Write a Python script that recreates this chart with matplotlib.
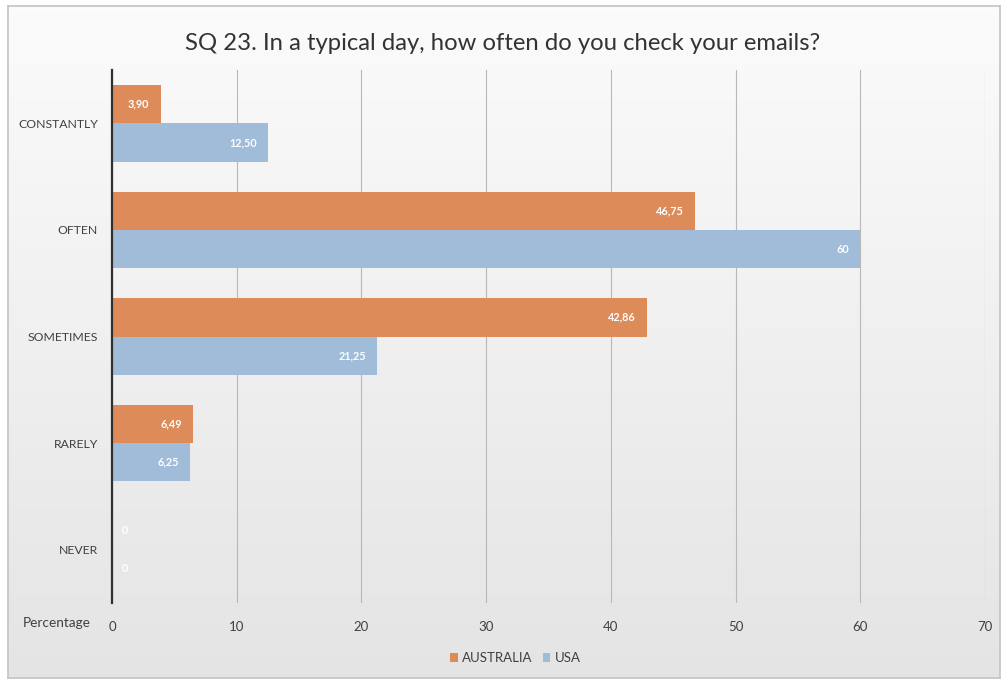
import numpy as np
import matplotlib.pyplot as plt

categories = ["CONSTANTLY", "OFTEN", "SOMETIMES", "RARELY", "NEVER"]
australia = [3.90, 46.75, 42.86, 6.49, 0]
usa = [12.50, 60, 21.25, 6.25, 0]
series_names = ["AUSTRALIA", "USA"]
xticks = [0, 10, 20, 30, 40, 50, 60, 70]

FONT = ["Lato", "DejaVu Sans"]
plt.rcParams["font.family"] = FONT

ORANGE = "#DE8B5A"
BLUE = "#A0BCD9"
TEXT = "#404040"

W, H = 1003, 681
fig = plt.figure(figsize=(W / 100, H / 100), dpi=100)
fig.patch.set_facecolor("white")

# background panel with a vertical gradient
bg = fig.add_axes([8 / W, 3 / H, 992 / W, 672 / H], zorder=-10)
grad = np.linspace(0, 1, 256).reshape(-1, 1)
top_c = np.array([0.985, 0.985, 0.985])
bot_c = np.array([0.895, 0.895, 0.895])
img = top_c + (bot_c - top_c) * grad[..., None]
bg.imshow(img, aspect="auto", extent=[0, 1, 0, 1], origin="upper")
bg.set_xlim(0, 1)
bg.set_ylim(0, 1)
for s in bg.spines.values():
    s.set_color("#c4c4c4")
    s.set_linewidth(1.2)
bg.set_xticks([])
bg.set_yticks([])

ax = fig.add_axes([112 / W, 1 - 603 / H, 873 / W, 533 / H])
ax.patch.set_alpha(0)

y = np.arange(len(categories))
h = 0.36
off = 0.18
b1 = ax.barh(y - off, australia, height=h, color=ORANGE, label=series_names[0], zorder=3)
b2 = ax.barh(y + off, usa, height=h, color=BLUE, label=series_names[1], zorder=3)

ax.set_xlim(0, 70)
ax.set_ylim(len(categories) - 0.5, -0.5)
ax.set_xticks(xticks)
ax.set_yticks(y)
ax.set_yticklabels(categories)
ax.tick_params(axis="y", length=0, pad=10, labelsize=8.8, labelcolor=TEXT)
ax.tick_params(axis="x", length=0, pad=13, labelsize=9.5, labelcolor=TEXT)
ax.grid(axis="x", color="#b8b8b8", linewidth=0.8, zorder=0)
for side in ["top", "right", "bottom"]:
    ax.spines[side].set_visible(False)
ax.spines["left"].set_color("#303030")
ax.spines["left"].set_linewidth(1.6)
ax.spines["left"].set_zorder(4)

def fmt(v):
    if float(v).is_integer():
        return f"{int(v)}"
    return f"{v:.2f}".replace(".", ",")

for bars, vals in ((b1, australia), (b2, usa)):
    for bar, v in zip(bars, vals):
        cy = bar.get_y() + bar.get_height() / 2
        if v > 0:
            ax.text(v - 0.9, cy, fmt(v), ha="right", va="center", color="white",
                    fontsize=7.8, fontweight="bold", zorder=5)
        else:
            ax.text(0.8, cy, fmt(v), ha="left", va="center", color="white",
                    fontsize=7.8, fontweight="bold", zorder=5)

fig.text(57 / W, 1 - 623 / H, "Percentage", ha="center", va="center",
         fontsize=9.8, color=TEXT)

fig.text(503 / W, 1 - 43 / H, "SQ 23. In a typical day, how often do you check your emails?",
         ha="center", va="center", fontsize=17.2, color="#333333")

leg = fig.legend(loc="center", bbox_to_anchor=(515 / W, 1 - 658 / H), ncol=2,
                 frameon=False, fontsize=9.5, handlelength=0.6, handleheight=0.6,
                 handletextpad=0.3, columnspacing=0.8)
for t in leg.get_texts():
    t.set_color(TEXT)

fig.savefig("out.png", dpi=100)
